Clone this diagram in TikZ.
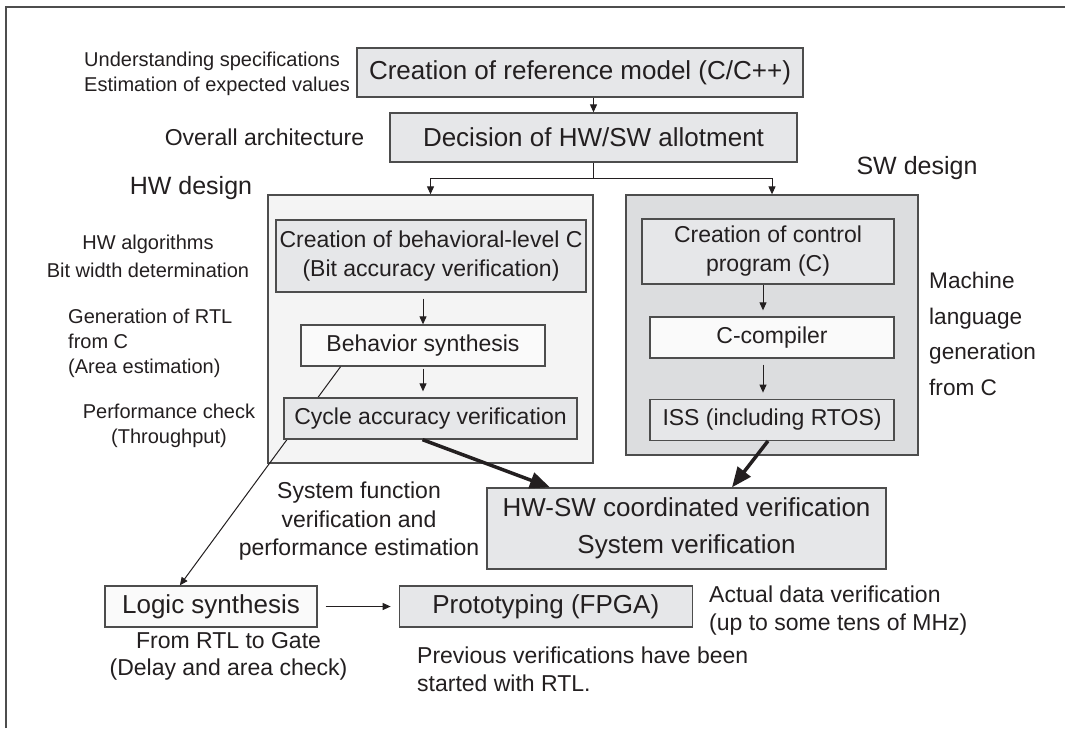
\documentclass[tikz,border=0pt]{standalone}
\usepackage{fontspec}
\setmainfont{Liberation Sans}
\usepackage{xcolor}
\usepackage{tikz}
\usetikzlibrary{arrows.meta, positioning, calc}

\definecolor{boxgray}{HTML}{E6E7E9}
\definecolor{hwfill}{HTML}{F4F4F4}
\definecolor{swfill}{HTML}{DCDDDF}
\definecolor{paper}{HTML}{FAFAFA}
\definecolor{linegray}{HTML}{4D4D4D}
\definecolor{inkblack}{HTML}{231F20}

\begin{document}
\begin{tikzpicture}[
    x=1pt, y=-1pt,
    box/.style={rectangle, draw=linegray, line width=1.3pt, fill=boxgray, inner sep=0pt, align=center, text=inkblack},
    mainbox/.style={box, font=\fontsize{26}{37}\selectfont},
    innerbox/.style={box, font=\fontsize{23}{29}\selectfont},
    group/.style={rectangle, draw=linegray, line width=1.3pt, inner sep=0pt},
    note/.style={inner sep=0pt, text=inkblack, font=\fontsize{23}{28}\selectfont},
    sidenote/.style={note, font=\fontsize{20}{25}\selectfont},
    heading/.style={note, font=\fontsize{25}{30}\selectfont},
    arrow/.style={-{Triangle[length=8pt,width=7pt]}, line width=1pt, draw=inkblack},
    bigarrow/.style={-{Triangle[length=20pt,width=16pt]}, line width=3.5pt, draw=inkblack}
]
\useasboundingbox (0,0) rectangle (1065,728);
\fill[white] (0,0) rectangle (1065,728);
\draw[linegray, line width=2pt] (6,728) -- (6,7) -- (1065,7);

% design groups
\node[group, fill=hwfill, minimum width=325pt, minimum height=268pt] (hwbox) at (430.5,329) {};
\node[group, fill=swfill, minimum width=292pt, minimum height=260pt] (swbox) at (772,325) {};

% top flow
\node[mainbox, minimum width=446pt, minimum height=49pt] (ref) at (580,72.5) {Creation of reference model (C/C++)};
\node[mainbox, minimum width=407pt, minimum height=49pt] (dec) at (593.5,137.5) {Decision of HW/SW allotment};
\coordinate (split) at (593.5,178);

% HW side
\node[innerbox, minimum width=310pt, minimum height=72pt] (behav) at (431,256) {Creation of behavioral-level C\\(Bit accuracy verification)};
\node[innerbox, fill=paper, minimum width=244pt, minimum height=41pt] (bsyn) at (423,345.5) {Behavior synthesis};

% SW side
\node[innerbox, minimum width=252pt, minimum height=65pt] (ctrl) at (768,251.5) {Creation of control\\program (C)};
\node[innerbox, fill=paper, minimum width=244pt, minimum height=41pt] (comp) at (772,337.5) {C-compiler};
\node[innerbox, minimum width=244pt, minimum height=41pt, below=40pt of comp] (iss) {ISS (including RTOS)};

% bottom flow
\node[mainbox, minimum width=399pt, minimum height=81pt] (hwsw) at (686.5,528.5) {HW-SW coordinated verification\\System verification};
\node[mainbox, fill=paper, minimum width=212pt, minimum height=41pt] (logic) at (211,606.5) {Logic synthesis};
\node[mainbox, minimum width=293pt, minimum height=41pt, right=81pt of logic] (proto) {Prototyping (FPGA)};

\draw[arrow] ($(bsyn.south west)!0.164!(bsyn.south east)$) -- ($(logic.north west)!0.354!(logic.north east)$);
\node[innerbox, minimum width=293pt, minimum height=41pt] (cycle) at (430.5,418.5) {Cycle accuracy verification};

% labels
\node[sidenote, anchor=west, align=left] (spec) at (84,74) {Understanding specifications\\Estimation of expected values};
\node[note] (arch) at (264.5,137) {Overall architecture};
\node[heading] (hwtitle) at (191,188) {HW design};
\node[heading] (swtitle) at (917,168) {SW design};
\node[sidenote, align=center, font=\fontsize{20}{28}\selectfont] (algo) at (148,256) {HW algorithms\\Bit width determination};
\node[sidenote, anchor=west, align=left] (gen) at (68,343) {Generation of RTL\\from C\\(Area estimation)};
\node[sidenote, align=center] (perf) at (169,425.5) {Performance check\\(Throughput)};
\node[note, anchor=west, align=left, font=\fontsize{22.6}{35.7}\selectfont] (mach) at (929,334) {Machine\\language\\generation\\from C};
\node[note, align=center, font=\fontsize{23}{28.5}\selectfont] (sysfn) at (359,521.5) {System function\\verification and\\performance estimation};
\node[note, align=center, font=\fontsize{23}{27}\selectfont] (gate) at (228.5,656.5) {From RTL to Gate\\(Delay and area check)};
\node[note, anchor=west, align=left] (prev) at (417,669) {Previous verifications have been\\started with RTL.};
\node[note, anchor=west, align=left] (actual) at (709,611) {Actual data verification\\(up to some tens of MHz)};

% connectors
\draw[arrow] (dec.north |- ref.south) -- (dec.north);
\draw[line width=1pt, inkblack] (dec.south) -- (split);
\draw[arrow] (split) -| (hwbox.north);
\draw[arrow] (split) -| (swbox.north);
\draw[arrow, shorten <=6pt] (bsyn.north |- behav.south) -- (bsyn.north);
\draw[arrow, shorten <=2pt, shorten >=6pt] (bsyn.south) -- (bsyn.south |- cycle.north);
\draw[arrow, shorten >=6pt] ([xshift=-5pt]ctrl.south) -- ([xshift=-5pt]ctrl.south |- comp.north);
\draw[arrow, shorten <=6pt, shorten >=6pt] ([xshift=-9pt]comp.south) -- ([xshift=-9pt]comp.south |- iss.north);
\draw[bigarrow] ([xshift=-8pt]cycle.south) -- ([xshift=-136.5pt]hwsw.north);
\draw[bigarrow] ([xshift=-4pt]iss.south) -- ([xshift=45.5pt]hwsw.north);
\draw[arrow, shorten <=8pt, shorten >=8pt] (logic.east) -- (proto.west);

\end{tikzpicture}
\end{document}
